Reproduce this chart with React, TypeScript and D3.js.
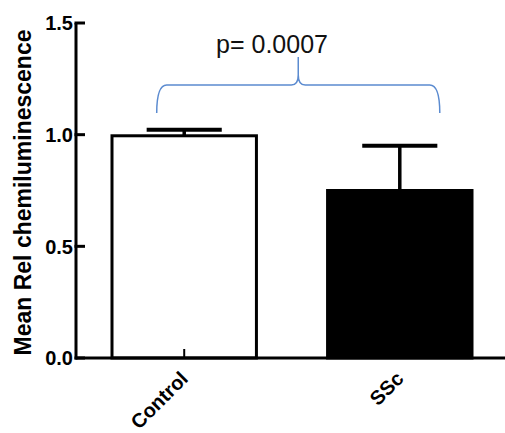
import React from "react";
import * as d3 from "d3";

const categories = ["Control", "SSc"];
const means = [0.995, 0.75];
const sems = [0.027, 0.2];
const fills = ["#ffffff", "#000000"];
const yTicks = [0, 0.5, 1.0, 1.5];
const yTickLabels = ["0.0", "0.5", "1.0", "1.5"];
const pLabel = "p= 0.0007";
const yTitle = "Mean Rel chemiluminescence";

const W = 505;
const H = 433;

export default function App() {
  const y = d3.scaleLinear().domain([0, 1.5]).range([358, 23]);
  const x = d3
    .scaleBand<string>()
    .domain(categories)
    .range([76, 508])
    .paddingInner(0.33)
    .paddingOuter(0.167);
  const bw = x.bandwidth();
  const capW = bw * 0.52;

  const cx = (c: string) => (x(c) as number) + bw / 2;
  const left = cx(categories[0]) - 27.5;
  const right = cx(categories[1]) + 40;
  const mid = (left + right) / 2;
  const yEnd = y(1.097);
  const yBar = y(1.222);
  const yTip = y(1.348);
  const r = 10;
  const brace = d3.path();
  brace.moveTo(left, yEnd);
  brace.quadraticCurveTo(left, yBar, left + r, yBar);
  brace.lineTo(mid - 7, yBar);
  brace.quadraticCurveTo(mid, yBar, mid, yBar - 10);
  brace.lineTo(mid, yTip);
  brace.moveTo(mid, yBar - 10);
  brace.quadraticCurveTo(mid, yBar, mid + 7, yBar);
  brace.lineTo(right - r, yBar);
  brace.quadraticCurveTo(right, yBar, right, yEnd);

  const font = "'Liberation Sans', Arial, sans-serif";

  return (
    <svg
      width={W}
      height={H}
      style={{ position: "absolute", left: 0, top: 0, background: "#fff" }}
      fontFamily={font}
    >
      <rect x={0} y={0} width={W} height={H} fill="#fff" />
      {categories.map((c, i) => (
        <g key={c}>
          <line
            x1={cx(c)}
            x2={cx(c)}
            y1={y(means[i])}
            y2={y(means[i] + sems[i])}
            stroke="#000"
            strokeWidth={3.5}
          />
          <line
            x1={cx(c) - capW / 2}
            x2={cx(c) + capW / 2}
            y1={y(means[i] + sems[i])}
            y2={y(means[i] + sems[i])}
            stroke="#000"
            strokeWidth={4}
          />
          <rect
            x={x(c)}
            y={y(means[i])}
            width={bw}
            height={y(0) - y(means[i])}
            fill={fills[i]}
            stroke="#000"
            strokeWidth={3}
          />
          <line
            x1={cx(c)}
            x2={cx(c)}
            y1={y(0)}
            y2={y(0) - 9}
            stroke="#000"
            strokeWidth={2}
          />
          <text
            transform={`translate(${cx(c) + 5},${y(0) + 22}) rotate(-45)`}
            textAnchor="end"
            fontWeight="bold"
            fontSize={20}
            fill="#000"
          >
            {c}
          </text>
        </g>
      ))}
      <line x1={76} x2={505} y1={y(0)} y2={y(0)} stroke="#000" strokeWidth={3} />
      <line x1={76} x2={76} y1={y(0) + 1.5} y2={y(1.5)} stroke="#000" strokeWidth={3} />
      {yTicks.map((t, i) => (
        <g key={t}>
          <line x1={74.5} x2={85} y1={y(t)} y2={y(t)} stroke="#000" strokeWidth={3} />
          <text
            x={73}
            y={y(t)}
            dy="0.36em"
            textAnchor="end"
            fontWeight="bold"
            fontSize={20}
            fill="#000"
          >
            {yTickLabels[i]}
          </text>
        </g>
      ))}
      <text
        transform={`translate(31,${(y(0) + y(1.5)) / 2 + 2}) rotate(-90)`}
        textAnchor="middle"
        fontWeight="bold"
        fontSize={23}
        fill="#000"
      >
        {yTitle}
      </text>
      <path d={brace.toString()} fill="none" stroke="#5b8bd0" strokeWidth={1.5} />
      <text x={272} y={53} textAnchor="middle" fontSize={25} fill="#111">
        {pLabel}
      </text>
    </svg>
  );
}
